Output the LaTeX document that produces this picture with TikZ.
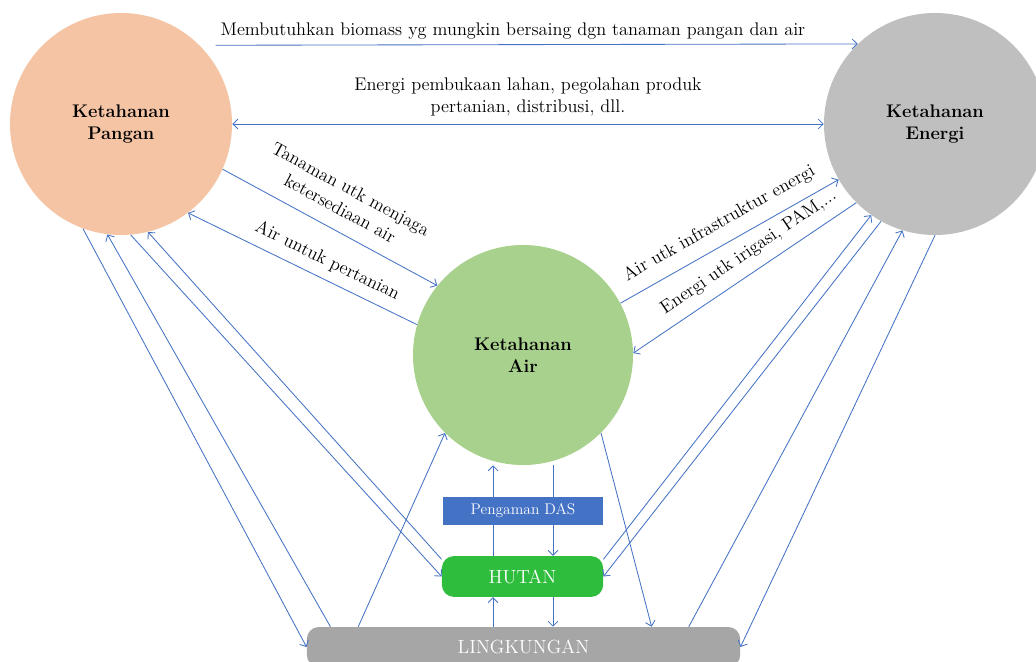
\documentclass[tikz,border=0pt]{standalone}
\usepackage{tikz}
\usetikzlibrary{arrows.meta}

\definecolor{biru}{HTML}{4472C4}
\definecolor{oranye}{HTML}{F5C4A5}
\definecolor{abu}{HTML}{BFBFBF}
\definecolor{abutua}{HTML}{A6A6A6}
\definecolor{hijau}{HTML}{A9D18E}
\definecolor{hijautua}{HTML}{2EBD3C}

\begin{document}
\begin{tikzpicture}[x=0.025cm, y=-0.025cm, >={Straight Barb[length=3.5pt,width=7pt]},
        lingkaran/.style={circle, minimum size=5.55cm, inner sep=0pt, align=center,
            font=\fontsize{13}{16}\selectfont\bfseries},
        kotak/.style={rectangle, inner sep=0pt, text=white, font=\fontsize{13.5}{16}\selectfont},
        panah/.style={draw=biru, line width=0.6pt, ->},
        ket/.style={font=\fontsize{13}{16}\selectfont, align=center, text=black}]
        \useasboundingbox (0,0) rectangle (1036,662);
        \clip (0,0) rectangle (1036,662);

        % tiga ketahanan
        \node[lingkaran, fill=oranye] (pangan) at (121,124) {Ketahanan\\Pangan};
        \node[lingkaran, fill=abu] (energi) at (935,124) {Ketahanan\\Energi};
        \node[lingkaran, fill=hijau, minimum size=5.5cm] (air) at (523,355) {Ketahanan\\Air};

        % kotak bawah
        \node[kotak, fill=hijautua, minimum width=4.03cm, minimum height=1.02cm,
            rounded corners=0.3cm] (hutan) at (522.5,576.5) {HUTAN};
        \node[kotak, fill=abutua, minimum width=10.83cm, minimum height=1cm,
            rounded corners=0.3cm] (lingkungan) at (523.5,647) {LINGKUNGAN};
        \coordinate (kiri) at (493,0);
        \coordinate (kanan) at (553,0);

        % pangan - energi
        \draw[panah, shorten <=0.4cm] (pangan.45.4) -- node[ket, above, pos=0.476]
            {Membutuhkan biomass yg mungkin bersaing dgn tanaman pangan dan air} (energi.134.6);
        \draw[panah, <->] (pangan.east) -- node[ket, above=2pt]
            {Energi pembukaan lahan, pegolahan produk\\pertanian, distribusi, dll.} (energi.west);

        % pangan - air
        \draw[panah] (pangan.-24) -- node[ket, sloped, above=7pt, pos=0.5]
            {Tanaman utk menjaga\\ketersediaan air} (air.141.7);
        \draw[panah] (air.164.5) -- node[ket, sloped, above=3pt, pos=0.425]
            {Air untuk pertanian} (pangan.-53.6);

        % air - energi
        \draw[panah] (air.28.6) -- node[ket, sloped, above=5pt, pos=0.5]
            {Air utk infrastruktur energi} (energi.-150.4);
        \draw[panah] (energi.-135) -- node[ket, sloped, above=4pt, pos=0.435]
            {Energi utk irigasi, PAM,...} (air.1);

        % ke hutan dan lingkungan
        \draw[panah] (pangan.-110) -- (lingkungan.west);
        \draw[panah] (lingkungan.174) -- (pangan.-97);
        \draw[panah] (pangan.-85) -- (hutan.west);
        \draw[panah] (hutan.168) -- (pangan.-76);
        \draw[panah] (lingkungan.173.3) -- (air.-135);
        \draw[panah] (air.-45) -- (lingkungan.9);
        \draw[panah] (hutan.12) -- (energi.-125);
        \draw[panah] (energi.-119) -- (hutan.east);
        \draw[panah] (lingkungan.7) -- (energi.-107.6);
        \draw[panah] (energi.-90) -- (lingkungan.east);

        % jalur tengah
        \draw[panah] (hutan.north -| kiri) -- (kiri |- air.south);
        \draw[panah] (kanan |- air.south) -- (hutan.north -| kanan);
        \draw[panah] (kiri |- lingkungan.north) -- (hutan.south -| kiri);
        \draw[panah] (hutan.south -| kanan) -- (kanan |- lingkungan.north);

        % pengaman DAS di atas jalur
        \node[kotak, fill=biru, minimum width=4cm, minimum height=0.7cm,
            font=\fontsize{11}{13}\selectfont] (das) at (523,511) {Pengaman DAS};
    \end{tikzpicture}
\end{document}
